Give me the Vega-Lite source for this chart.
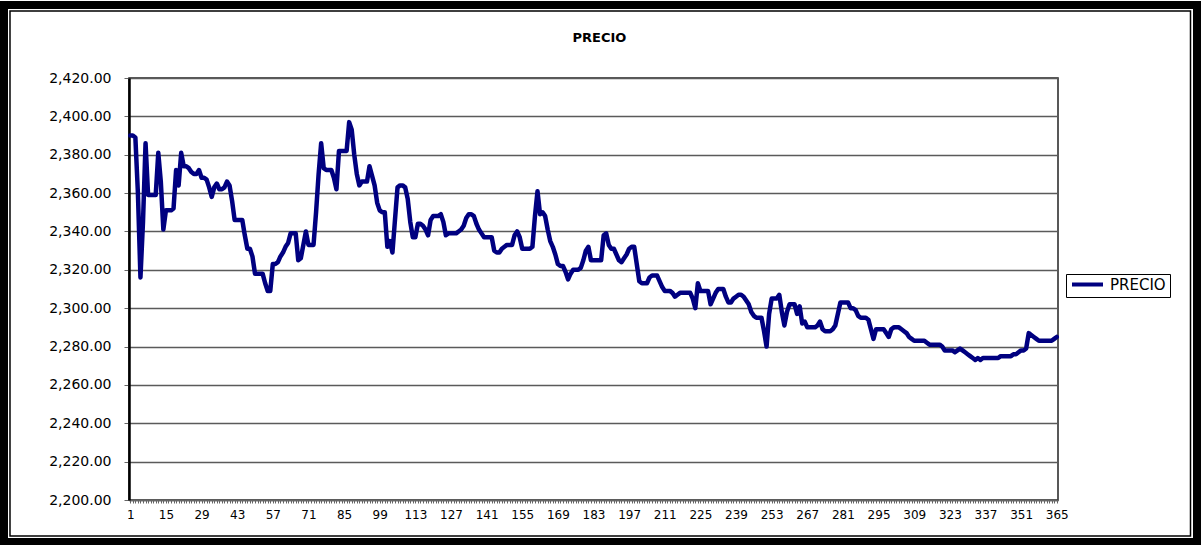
{
  "$schema": "https://vega.github.io/schema/vega-lite/v6.json",
  "width": 929,
  "height": 422,
  "padding": 0,
  "autosize": {"type": "pad"},
  "background": "white",
  "title": {
    "text": "PRECIO",
    "font": "DejaVu Sans",
    "fontSize": 13,
    "fontWeight": "bold",
    "color": "black",
    "anchor": "middle",
    "baseline": "bottom",
    "dx": 6,
    "offset": -57
  },
  "config": {
    "view": {"stroke": "#222222", "strokeWidth": 1.5},
    "axis": {"labelFont": "DejaVu Sans", "labelColor": "black"}
  },
  "resolve": {"scale": {"x": "independent", "y": "independent"}},
  "data": {
    "values": [
      {"dia":1,"precio":2390},{"dia":2,"precio":2390},{"dia":3,"precio":2389},{"dia":4,"precio":2360},{"dia":5,"precio":2316},
      {"dia":6,"precio":2345},{"dia":7,"precio":2386},{"dia":8,"precio":2359},{"dia":9,"precio":2359},{"dia":10,"precio":2359},
      {"dia":11,"precio":2359},{"dia":12,"precio":2381},{"dia":13,"precio":2366},{"dia":14,"precio":2341},{"dia":15,"precio":2351},
      {"dia":16,"precio":2351},{"dia":17,"precio":2351},{"dia":18,"precio":2352},{"dia":19,"precio":2372},{"dia":20,"precio":2364},
      {"dia":21,"precio":2381},{"dia":22,"precio":2374},{"dia":23,"precio":2374},{"dia":24,"precio":2373},{"dia":25,"precio":2371},
      {"dia":26,"precio":2370},{"dia":27,"precio":2370},{"dia":28,"precio":2372},{"dia":29,"precio":2368},{"dia":30,"precio":2368},
      {"dia":31,"precio":2367},{"dia":32,"precio":2363},{"dia":33,"precio":2358},{"dia":34,"precio":2363},{"dia":35,"precio":2365},
      {"dia":36,"precio":2362},{"dia":37,"precio":2362},{"dia":38,"precio":2363},{"dia":39,"precio":2366},{"dia":40,"precio":2364},
      {"dia":41,"precio":2356},{"dia":42,"precio":2346},{"dia":43,"precio":2346},{"dia":44,"precio":2346},{"dia":45,"precio":2346},
      {"dia":46,"precio":2338},{"dia":47,"precio":2331},{"dia":48,"precio":2331},{"dia":49,"precio":2327},{"dia":50,"precio":2318},
      {"dia":51,"precio":2318},{"dia":52,"precio":2318},{"dia":53,"precio":2318},{"dia":54,"precio":2313},{"dia":55,"precio":2309},
      {"dia":56,"precio":2309},{"dia":57,"precio":2323},{"dia":58,"precio":2323},{"dia":59,"precio":2324},{"dia":60,"precio":2327},
      {"dia":61,"precio":2329},{"dia":62,"precio":2332},{"dia":63,"precio":2334},{"dia":64,"precio":2339},{"dia":65,"precio":2339},
      {"dia":66,"precio":2339},{"dia":67,"precio":2325},{"dia":68,"precio":2326},{"dia":69,"precio":2333},{"dia":70,"precio":2340},
      {"dia":71,"precio":2333},{"dia":72,"precio":2333},{"dia":73,"precio":2333},{"dia":74,"precio":2350},{"dia":75,"precio":2370},
      {"dia":76,"precio":2386},{"dia":77,"precio":2373},{"dia":78,"precio":2372},{"dia":79,"precio":2372},{"dia":80,"precio":2372},
      {"dia":81,"precio":2368},{"dia":82,"precio":2362},{"dia":83,"precio":2382},{"dia":84,"precio":2382},{"dia":85,"precio":2382},
      {"dia":86,"precio":2382},{"dia":87,"precio":2397},{"dia":88,"precio":2393},{"dia":89,"precio":2380},{"dia":90,"precio":2370},
      {"dia":91,"precio":2364},{"dia":92,"precio":2366},{"dia":93,"precio":2366},{"dia":94,"precio":2366},{"dia":95,"precio":2374},
      {"dia":96,"precio":2369},{"dia":97,"precio":2364},{"dia":98,"precio":2355},{"dia":99,"precio":2351},{"dia":100,"precio":2350},
      {"dia":101,"precio":2350},{"dia":102,"precio":2332},{"dia":103,"precio":2335},{"dia":104,"precio":2329},{"dia":105,"precio":2346},
      {"dia":106,"precio":2363},{"dia":107,"precio":2364},{"dia":108,"precio":2364},{"dia":109,"precio":2363},{"dia":110,"precio":2357},
      {"dia":111,"precio":2345},{"dia":112,"precio":2337},{"dia":113,"precio":2337},{"dia":114,"precio":2344},{"dia":115,"precio":2344},
      {"dia":116,"precio":2343},{"dia":117,"precio":2341},{"dia":118,"precio":2338},{"dia":119,"precio":2346},{"dia":120,"precio":2348},
      {"dia":121,"precio":2348},{"dia":122,"precio":2348},{"dia":123,"precio":2349},{"dia":124,"precio":2345},{"dia":125,"precio":2338},
      {"dia":126,"precio":2339},{"dia":127,"precio":2339},{"dia":128,"precio":2339},{"dia":129,"precio":2339},{"dia":130,"precio":2340},
      {"dia":131,"precio":2341},{"dia":132,"precio":2343},{"dia":133,"precio":2347},{"dia":134,"precio":2349},{"dia":135,"precio":2349},
      {"dia":136,"precio":2348},{"dia":137,"precio":2344},{"dia":138,"precio":2341},{"dia":139,"precio":2339},{"dia":140,"precio":2337},
      {"dia":141,"precio":2337},{"dia":142,"precio":2337},{"dia":143,"precio":2337},{"dia":144,"precio":2330},{"dia":145,"precio":2329},
      {"dia":146,"precio":2329},{"dia":147,"precio":2331},{"dia":148,"precio":2332},{"dia":149,"precio":2333},{"dia":150,"precio":2333},
      {"dia":151,"precio":2333},{"dia":152,"precio":2338},{"dia":153,"precio":2340},{"dia":154,"precio":2337},{"dia":155,"precio":2331},
      {"dia":156,"precio":2331},{"dia":157,"precio":2331},{"dia":158,"precio":2331},{"dia":159,"precio":2332},{"dia":160,"precio":2348},
      {"dia":161,"precio":2361},{"dia":162,"precio":2349},{"dia":163,"precio":2350},{"dia":164,"precio":2348},{"dia":165,"precio":2341},
      {"dia":166,"precio":2335},{"dia":167,"precio":2332},{"dia":168,"precio":2328},{"dia":169,"precio":2323},{"dia":170,"precio":2322},
      {"dia":171,"precio":2322},{"dia":172,"precio":2319},{"dia":173,"precio":2315},{"dia":174,"precio":2318},{"dia":175,"precio":2320},
      {"dia":176,"precio":2320},{"dia":177,"precio":2320},{"dia":178,"precio":2321},{"dia":179,"precio":2325},{"dia":180,"precio":2330},
      {"dia":181,"precio":2332},{"dia":182,"precio":2325},{"dia":183,"precio":2325},{"dia":184,"precio":2325},{"dia":185,"precio":2325},
      {"dia":186,"precio":2325},{"dia":187,"precio":2338},{"dia":188,"precio":2339},{"dia":189,"precio":2333},{"dia":190,"precio":2331},
      {"dia":191,"precio":2331},{"dia":192,"precio":2328},{"dia":193,"precio":2325},{"dia":194,"precio":2324},{"dia":195,"precio":2326},
      {"dia":196,"precio":2328},{"dia":197,"precio":2331},{"dia":198,"precio":2332},{"dia":199,"precio":2332},{"dia":200,"precio":2323},
      {"dia":201,"precio":2314},{"dia":202,"precio":2313},{"dia":203,"precio":2313},{"dia":204,"precio":2313},{"dia":205,"precio":2316},
      {"dia":206,"precio":2317},{"dia":207,"precio":2317},{"dia":208,"precio":2317},{"dia":209,"precio":2314},{"dia":210,"precio":2311},
      {"dia":211,"precio":2309},{"dia":212,"precio":2309},{"dia":213,"precio":2309},{"dia":214,"precio":2308},{"dia":215,"precio":2306},
      {"dia":216,"precio":2307},{"dia":217,"precio":2308},{"dia":218,"precio":2308},{"dia":219,"precio":2308},{"dia":220,"precio":2308},
      {"dia":221,"precio":2308},{"dia":222,"precio":2305},{"dia":223,"precio":2300},{"dia":224,"precio":2313},{"dia":225,"precio":2309},
      {"dia":226,"precio":2309},{"dia":227,"precio":2309},{"dia":228,"precio":2309},{"dia":229,"precio":2302},{"dia":230,"precio":2305},
      {"dia":231,"precio":2308},{"dia":232,"precio":2310},{"dia":233,"precio":2310},{"dia":234,"precio":2310},{"dia":235,"precio":2306},
      {"dia":236,"precio":2303},{"dia":237,"precio":2303},{"dia":238,"precio":2305},{"dia":239,"precio":2306},{"dia":240,"precio":2307},
      {"dia":241,"precio":2307},{"dia":242,"precio":2306},{"dia":243,"precio":2304},{"dia":244,"precio":2302},{"dia":245,"precio":2298},
      {"dia":246,"precio":2296},{"dia":247,"precio":2295},{"dia":248,"precio":2295},{"dia":249,"precio":2295},{"dia":250,"precio":2288},
      {"dia":251,"precio":2280},{"dia":252,"precio":2297},{"dia":253,"precio":2305},{"dia":254,"precio":2305},{"dia":255,"precio":2305},
      {"dia":256,"precio":2307},{"dia":257,"precio":2298},{"dia":258,"precio":2291},{"dia":259,"precio":2298},{"dia":260,"precio":2302},
      {"dia":261,"precio":2302},{"dia":262,"precio":2302},{"dia":263,"precio":2297},{"dia":264,"precio":2301},{"dia":265,"precio":2292},
      {"dia":266,"precio":2293},{"dia":267,"precio":2290},{"dia":268,"precio":2290},{"dia":269,"precio":2290},{"dia":270,"precio":2290},
      {"dia":271,"precio":2291},{"dia":272,"precio":2293},{"dia":273,"precio":2289},{"dia":274,"precio":2288},{"dia":275,"precio":2288},
      {"dia":276,"precio":2288},{"dia":277,"precio":2289},{"dia":278,"precio":2291},{"dia":279,"precio":2297},{"dia":280,"precio":2303},
      {"dia":281,"precio":2303},{"dia":282,"precio":2303},{"dia":283,"precio":2303},{"dia":284,"precio":2300},{"dia":285,"precio":2300},
      {"dia":286,"precio":2299},{"dia":287,"precio":2296},{"dia":288,"precio":2295},{"dia":289,"precio":2295},{"dia":290,"precio":2295},
      {"dia":291,"precio":2294},{"dia":292,"precio":2289},{"dia":293,"precio":2284},{"dia":294,"precio":2289},{"dia":295,"precio":2289},
      {"dia":296,"precio":2289},{"dia":297,"precio":2289},{"dia":298,"precio":2287},{"dia":299,"precio":2285},{"dia":300,"precio":2289},
      {"dia":301,"precio":2290},{"dia":302,"precio":2290},{"dia":303,"precio":2290},{"dia":304,"precio":2289},{"dia":305,"precio":2288},
      {"dia":306,"precio":2287},{"dia":307,"precio":2285},{"dia":308,"precio":2284},{"dia":309,"precio":2283},{"dia":310,"precio":2283},
      {"dia":311,"precio":2283},{"dia":312,"precio":2283},{"dia":313,"precio":2283},{"dia":314,"precio":2282},{"dia":315,"precio":2281},
      {"dia":316,"precio":2281},{"dia":317,"precio":2281},{"dia":318,"precio":2281},{"dia":319,"precio":2281},{"dia":320,"precio":2280},
      {"dia":321,"precio":2278},{"dia":322,"precio":2278},{"dia":323,"precio":2278},{"dia":324,"precio":2278},{"dia":325,"precio":2277},
      {"dia":326,"precio":2278},{"dia":327,"precio":2279},{"dia":328,"precio":2278},{"dia":329,"precio":2277},{"dia":330,"precio":2276},
      {"dia":331,"precio":2275},{"dia":332,"precio":2274},{"dia":333,"precio":2273},{"dia":334,"precio":2274},{"dia":335,"precio":2273},
      {"dia":336,"precio":2274},{"dia":337,"precio":2274},{"dia":338,"precio":2274},{"dia":339,"precio":2274},{"dia":340,"precio":2274},
      {"dia":341,"precio":2274},{"dia":342,"precio":2274},{"dia":343,"precio":2275},{"dia":344,"precio":2275},{"dia":345,"precio":2275},
      {"dia":346,"precio":2275},{"dia":347,"precio":2275},{"dia":348,"precio":2276},{"dia":349,"precio":2276},{"dia":350,"precio":2277},
      {"dia":351,"precio":2278},{"dia":352,"precio":2278},{"dia":353,"precio":2279},{"dia":354,"precio":2287},{"dia":355,"precio":2286},
      {"dia":356,"precio":2285},{"dia":357,"precio":2284},{"dia":358,"precio":2283},{"dia":359,"precio":2283},{"dia":360,"precio":2283},
      {"dia":361,"precio":2283},{"dia":362,"precio":2283},{"dia":363,"precio":2283},{"dia":364,"precio":2284},{"dia":365,"precio":2285}
    ]
  },
  "layer": [
    {
      "mark": {"type": "line", "strokeWidth": 4.5, "strokeJoin": "round", "strokeCap": "round"},
      "encoding": {
        "x": {
          "field": "dia",
          "type": "quantitative",
          "scale": {"domain": [0.5, 365.5], "nice": false, "zero": false},
          "axis": {
            "title": null,
            "grid": false,
            "tickCount": 365,
            "format": "d",
            "labelExpr": "(datum.value - 1) % 14 === 0 ? datum.label : ''",
            "labelOverlap": false,
            "labelBound": false,
            "labelFlush": false,
            "labelFontSize": 12,
            "labelPadding": 6,
            "tickSize": 3,
            "tickColor": "#666666",
            "domainColor": "#666666",
            "domainWidth": 1.5
          }
        },
        "y": {
          "field": "precio",
          "type": "quantitative",
          "scale": {"domain": [2200, 2420], "nice": false, "zero": false},
          "axis": {
            "title": null,
            "values": [2200, 2220, 2240, 2260, 2280, 2300, 2320, 2340, 2360, 2380, 2400, 2420],
            "format": ",.2f",
            "labelOverlap": false,
            "grid": true,
            "gridColor": "#5a5a5a",
            "gridWidth": 1.5,
            "labelFontSize": 14,
            "labelPadding": 13,
            "tickSize": 5,
            "tickColor": "#666666",
            "domainColor": "black",
            "domainWidth": 2.5
          }
        },
        "color": {
          "datum": "PRECIO",
          "type": "nominal",
          "scale": {"range": ["#000080"]},
          "legend": {
            "title": null,
            "orient": "none",
            "legendX": 937,
            "legendY": 196,
            "strokeColor": "black",
            "fillColor": "white",
            "padding": 4,
            "clipHeight": 13,
            "symbolType": "stroke",
            "symbolSize": 961,
            "symbolStrokeWidth": 4,
            "labelFont": "DejaVu Sans",
            "labelFontSize": 15,
            "labelColor": "black",
            "labelOffset": 5
          }
        }
      }
    },
    {
      "data": {"values": [{}]},
      "mark": {"type": "rect", "filled": false, "stroke": "black", "strokeWidth": 8},
      "encoding": {
        "x": {"datum": -48.61, "type": "quantitative", "axis": null, "scale": {"domain": [0.5, 365.5], "nice": false, "zero": false}},
        "x2": {"datum": 420.11},
        "y": {"datum": 2458.06, "type": "quantitative", "axis": null, "scale": {"domain": [2200, 2420], "nice": false, "zero": false}},
        "y2": {"datum": 2178.1}
      }
    },
    {
      "data": {"values": [{}]},
      "mark": {"type": "rect", "filled": false, "stroke": "black", "strokeWidth": 1.5},
      "encoding": {
        "x": {"datum": -46.26, "type": "quantitative", "axis": null, "scale": {"domain": [0.5, 365.5], "nice": false, "zero": false}},
        "x2": {"datum": 417.56},
        "y": {"datum": 2454.93, "type": "quantitative", "axis": null, "scale": {"domain": [2200, 2420], "nice": false, "zero": false}},
        "y2": {"datum": 2181.23}
      }
    }
  ]
}
